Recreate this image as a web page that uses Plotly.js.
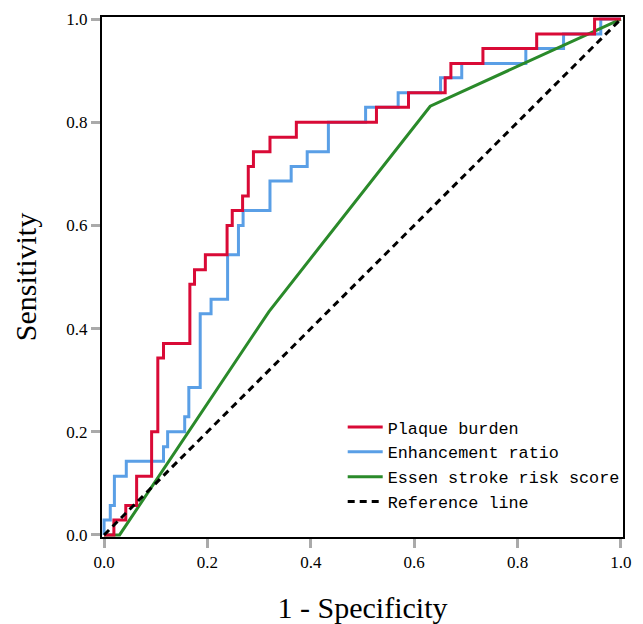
<!DOCTYPE html>
<html>
<head>
<meta charset="utf-8">
<script src="https://cdn.plot.ly/plotly-3.0.1.min.js"></script>
<style>html,body{margin:0;padding:0;background:#fff;}#chart{width:643px;height:624px;}</style>
</head>
<body>
<div id="chart"></div>
<script>
// Plaque burden ROC (step corners)
const plaqueFpr = [0, 0.019, 0.042, 0.063, 0.092, 0.104, 0.115, 0.166, 0.175, 0.196, 0.238, 0.248, 0.268, 0.279, 0.289, 0.321, 0.372, 0.527, 0.589, 0.660, 0.671, 0.733, 0.837, 0.949, 1.0];
const plaqueTpr = [0, 0.029, 0.057, 0.114, 0.200, 0.343, 0.371, 0.486, 0.514, 0.543, 0.600, 0.629, 0.657, 0.714, 0.743, 0.771, 0.800, 0.829, 0.857, 0.886, 0.914, 0.943, 0.971, 1.0, 1.0];
// Enhancement ratio ROC
const enhFpr = [0, 0, 0.012, 0.020, 0.043, 0.115, 0.123, 0.156, 0.164, 0.186, 0.207, 0.239, 0.260, 0.269, 0.321, 0.362, 0.393, 0.434, 0.506, 0.569, 0.651, 0.692, 0.816, 0.889, 0.961, 1.0];
const enhTpr = [0, 0.029, 0.057, 0.114, 0.143, 0.171, 0.200, 0.229, 0.286, 0.429, 0.457, 0.543, 0.600, 0.629, 0.686, 0.714, 0.743, 0.800, 0.829, 0.857, 0.886, 0.914, 0.943, 0.971, 1.0, 1.0];
// Essen stroke risk score ROC
const essenFpr = [0, 0.030, 0.319, 0.631, 1.0];
const essenTpr = [0, 0, 0.433, 0.831, 1.0];
// Reference line
const refX = [0, 1];
const refY = [0, 1];
const tickVals = [0, 0.2, 0.4, 0.6, 0.8, 1.0];
const tickText = ["0.0", "0.2", "0.4", "0.6", "0.8", "1.0"];

const traces = [
  {x: enhFpr, y: enhTpr, mode: 'lines', line: {shape: 'hv', color: '#5A9FE6', width: 3}, name: 'Enhancement ratio', legendrank: 2},
  {x: essenFpr, y: essenTpr, mode: 'lines', line: {color: '#2A8A2A', width: 3}, name: 'Essen stroke risk score', legendrank: 3},
  {x: plaqueFpr, y: plaqueTpr, mode: 'lines', line: {shape: 'hv', color: '#D90A36', width: 3}, name: 'Plaque burden', legendrank: 1},
  {x: refX, y: refY, mode: 'lines', line: {color: '#000000', width: 3, dash: '7px,5px'}, name: 'Reference line', legendrank: 4}
];

const axisCommon = {
  range: [-0.004, 1.004],
  tickvals: tickVals,
  ticktext: tickText,
  ticks: 'outside',
  ticklen: 9,
  tickwidth: 3,
  tickcolor: '#aaaaaa',
  showline: true,
  linecolor: '#000000',
  linewidth: 2,
  mirror: true,
  showgrid: false,
  zeroline: false,
  tickfont: {family: 'Liberation Serif', size: 17, color: '#000'}
};

const layout = {
  width: 643, height: 624,
  margin: {l: 102, r: 20, t: 17, b: 87},
  paper_bgcolor: '#fff', plot_bgcolor: '#fff',
  showlegend: true,
  legend: {
    x: 0.462, y: 0.245, xanchor: 'left', yanchor: 'top',
    bgcolor: 'rgba(0,0,0,0)',
    font: {family: 'Liberation Mono', size: 16.8, color: '#000'},
    itemwidth: 35,
    tracegroupgap: 0
  },
  xaxis: Object.assign({}, axisCommon, {
    title: {text: '1 - Specificity', font: {family: 'Liberation Serif', size: 30, color: '#000'}, standoff: 26}
  }),
  yaxis: Object.assign({}, axisCommon, {
    title: {text: 'Sensitivity', font: {family: 'Liberation Serif', size: 30, color: '#000'}, standoff: 21}
  })
};

Plotly.newPlot('chart', traces, layout, {displayModeBar: false, staticPlot: true});
</script>
</body>
</html>
